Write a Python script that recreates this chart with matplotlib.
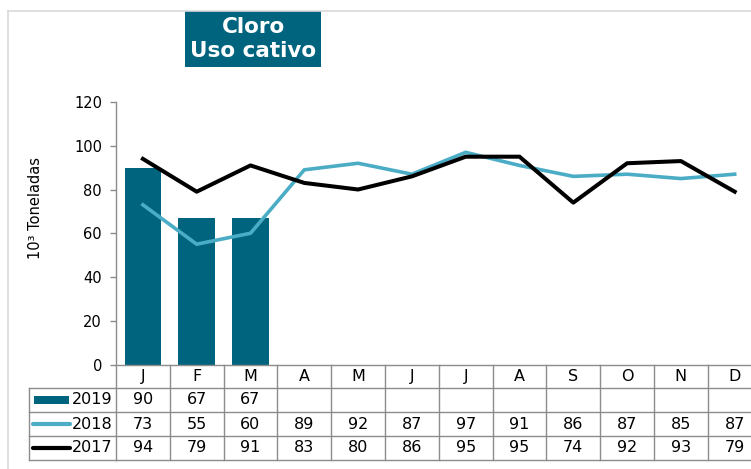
import matplotlib
matplotlib.use('Agg')
import matplotlib.pyplot as plt
from matplotlib.lines import Line2D
from matplotlib.patches import Rectangle
import matplotlib.transforms as mtransforms

months = ['J', 'F', 'M', 'A', 'M', 'J', 'J', 'A', 'S', 'O', 'N', 'D']
v2019 = [90, 67, 67]
v2018 = [73, 55, 60, 89, 92, 87, 97, 91, 86, 87, 85, 87]
v2017 = [94, 79, 91, 83, 80, 86, 95, 95, 74, 92, 93, 79]
years = ['2019', '2018', '2017']
yticks = [0, 20, 40, 60, 80, 100, 120]
title = 'Cloro\nUso cativo'
ylabel = '10³ Toneladas'

BAR = '#00647F'
LIGHT = '#4BACC6'
GRID = '#8C8C8C'
FRAME = '#D9D9D9'

plt.rcParams['font.family'] = ['DejaVu Sans']

W, H = 751, 469
fig = plt.figure(figsize=(W / 100, H / 100), dpi=100)


def fx(x):
    return x / W


def fy(y):
    return 1 - y / H


ax_left, ax_top, ax_bot, colw = 116, 102, 364.5, 53.8
ax = fig.add_axes([fx(ax_left), fy(ax_bot), 12 * colw / W, (ax_bot - ax_top) / H])
x = list(range(len(months)))
ax.bar(range(len(v2019)), v2019, width=0.68, color=BAR, zorder=2)
ax.plot(x, v2018, color=LIGHT, lw=2.6, zorder=3)
ax.plot(x, v2017, color='black', lw=2.9, zorder=4)
ax.set_xlim(-0.5, len(months) - 0.5)
ax.set_ylim(0, 120)
ax.set_yticks(yticks)
ax.set_xticks([])
for s in ['top', 'right']:
    ax.spines[s].set_visible(False)
for s in ['left', 'bottom']:
    ax.spines[s].set_color(GRID)
    ax.spines[s].set_linewidth(1.0)
ax.tick_params(axis='y', length=4, width=1.0, color=GRID, labelsize=10.5, pad=6)

# figure frame
fig.add_artist(Line2D([fx(8), 1], [fy(11), fy(11)], color=FRAME, lw=1.2, transform=fig.transFigure))
fig.add_artist(Line2D([fx(8), fx(8)], [fy(11), 0], color=FRAME, lw=1.2, transform=fig.transFigure))

# title box
fig.add_artist(Rectangle((fx(185), fy(67)), fx(321) - fx(185), fy(11) - fy(67),
                         facecolor=BAR, edgecolor='none', transform=fig.transFigure))
fig.text(fx(253), fy(39), title, color='white', fontsize=15.5, fontweight='bold',
         ha='center', va='center', linespacing=1.22)

# y label
fig.text(fx(35.5), fy(208), ylabel, rotation=90, ha='center', va='center', fontsize=10.5)

# data table
trans = mtransforms.blended_transform_factory(ax.transData, fig.transFigure)
rows_y = [364.5, 388, 412, 436, 459.5]
n = len(months)
for i in range(n + 1):
    fig.add_artist(Line2D([i - 0.5, i - 0.5], [fy(rows_y[0]), fy(rows_y[-1])], color=GRID, lw=1.0,
                          transform=trans, clip_on=False))
for yy in rows_y[1:]:
    fig.add_artist(Line2D([-0.5, n - 0.5], [fy(yy), fy(yy)], color=GRID, lw=1.0,
                          transform=trans, clip_on=False))
    fig.add_artist(Line2D([fx(29), fx(ax_left)], [fy(yy), fy(yy)], color=GRID, lw=1.0,
                          transform=fig.transFigure))
fig.add_artist(Line2D([fx(29), fx(29)], [fy(rows_y[1]), fy(rows_y[-1])], color=GRID, lw=1.0,
                      transform=fig.transFigure))

cell_fs = 11.5
for i, m in enumerate(months):
    fig.text(i, fy((rows_y[0] + rows_y[1]) / 2), m, transform=trans, ha='center', va='center', fontsize=cell_fs)
series = [v2019, v2018, v2017]
for r, vals in enumerate(series):
    yc = fy((rows_y[r + 1] + rows_y[r + 2]) / 2)
    for i, v in enumerate(vals):
        fig.text(i, yc, str(v), transform=trans, ha='center', va='center', fontsize=cell_fs)
    fig.text(fx(112.5), yc, years[r], ha='right', va='center', fontsize=cell_fs)

# legend swatches
yc0 = (rows_y[1] + rows_y[2]) / 2
fig.add_artist(Rectangle((fx(34), fy(yc0 + 4)), fx(69) - fx(34), fy(yc0 - 4) - fy(yc0 + 4),
                         facecolor=BAR, edgecolor='none', transform=fig.transFigure))
yc1 = fy((rows_y[2] + rows_y[3]) / 2)
fig.add_artist(Line2D([fx(33), fx(70)], [yc1, yc1], color=LIGHT, lw=3, solid_capstyle='round',
                      transform=fig.transFigure))
yc2 = fy((rows_y[3] + rows_y[4]) / 2)
fig.add_artist(Line2D([fx(33), fx(70)], [yc2, yc2], color='black', lw=3, solid_capstyle='round',
                      transform=fig.transFigure))

fig.savefig('out.png', dpi=100)
